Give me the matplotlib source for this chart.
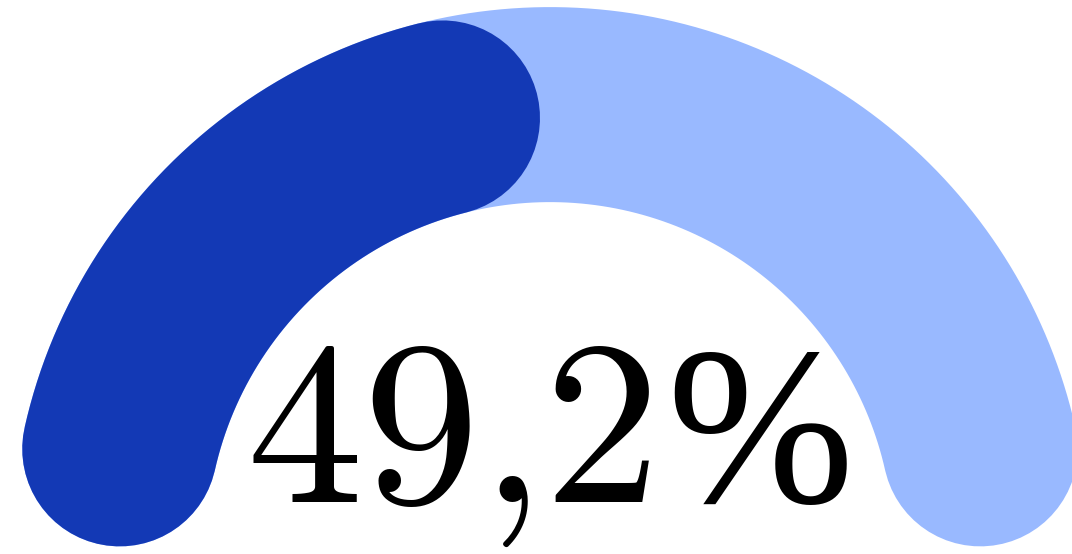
import numpy as np
import matplotlib
matplotlib.use("Agg")
import matplotlib.pyplot as plt

# ---- data ----
value = 49.2
vmin = 0.0
vmax = 100.0
track_color = "#99B9FF"
value_color = "#1339B5"

plt.rcParams["mathtext.fontset"] = "cm"

W, H, DPI = 1072, 554, 100
fig = plt.figure(figsize=(W / DPI, H / DPI), dpi=DPI, facecolor="white")
ax = fig.add_axes([0, 0, 1, 1])
ax.set_xlim(0, W)
ax.set_ylim(0, H)
ax.set_aspect("equal")
ax.axis("off")

cx, cy = 550.0, 8.4      # gauge centre (data units = pixels)
R = 441.0                # centre-line radius
thick = 195.0            # stroke thickness in pixels
lw_pt = thick * 72.0 / DPI
inset = np.degrees((thick / 2) / R)   # round caps stay inside the sweep


def arc(a0, a1, color, z):
    t = np.radians(np.linspace(a0, a1, 400))
    ax.plot(cx + R * np.cos(t), cy + R * np.sin(t), color=color, lw=lw_pt,
            solid_capstyle="round", zorder=z)


# track: full half circle
arc(180 - inset, 0 + inset, track_color, 1)
# value arc
frac = (value - vmin) / (vmax - vmin)
end_angle = 180 - frac * 180
arc(180 - inset, end_angle + inset, value_color, 2)

# ---- label: number in Computer Modern, percent sign in a Didone-like serif ----
num = f"{value:.1f}".replace(".", "{,}")
base_y = 52
t_num = ax.text(0, base_y, r"$" + num + r"$", fontsize=168, ha="left",
                va="baseline", color="black", zorder=3)
t_pct = ax.text(0, base_y, "%", fontsize=162, ha="left", va="baseline",
                family=["Liberation Serif", "DejaVu Serif"], color="black",
                zorder=3)
fig.canvas.draw()
rend = fig.canvas.get_renderer()
b1 = t_num.get_window_extent(rend)
b2 = t_pct.get_window_extent(rend)
gap = 16
total = b1.width + gap + b2.width
x0 = cx - total / 2
t_num.set_x(x0)
t_pct.set_x(x0 + b1.width + gap)

fig.savefig("out.png", dpi=DPI, facecolor="white")
